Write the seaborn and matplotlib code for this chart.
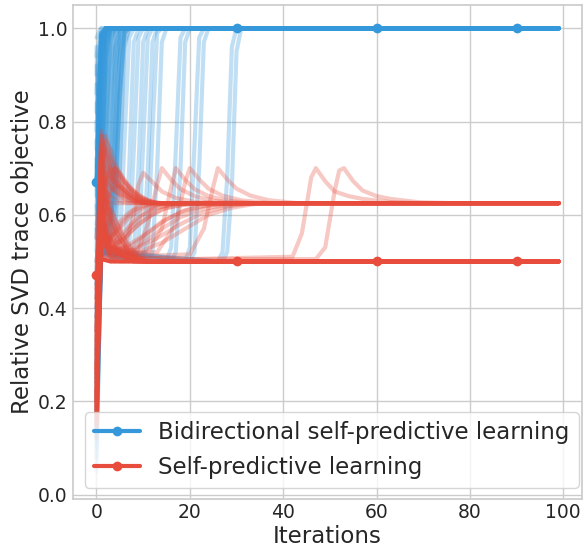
import numpy as np
import pandas as pd
import seaborn as sns
import matplotlib
matplotlib.use("Agg")
import matplotlib.pyplot as plt

BLUE = "#3498db"
RED = "#e74c3c"
LAST_ITER = 99

# ---------------------------------------------------------------------------
# Relative SVD trace objective per run.
# "fast"/"low"/"high" runs: values at iterations 0, 1, 2, ...; the last value
# holds to iteration 99.
# "slow"/"rise"/"bump" runs: (iteration, value) pairs.
# ---------------------------------------------------------------------------

# Highlighted runs (drawn opaque, with markers at 0, 30, 60, 90)
bidir_main_x = [0, 1, 2, 30, 60, 90, 99]
bidir_main_y = [0.67, 0.985, 1.0, 1.0, 1.0, 1.0, 1.0]
selfpred_main_x = [0, 1, 3, 30, 60, 90, 99]
selfpred_main_y = [0.47, 0.505, 0.5, 0.5, 0.5, 0.5, 0.5]

# Bidirectional runs that reach 1.0 within the first few iterations
bidir_fast = [
    [0.05, 0.55, 0.93, 1.0],
    [0.12, 0.62, 0.98, 1.0],
    [0.20, 0.85, 1.0],
    [0.28, 0.95, 1.0],
    [0.35, 0.78, 0.99, 1.0],
    [0.42, 0.90, 1.0],
    [0.48, 0.70, 0.96, 1.0],
    [0.52, 0.99, 1.0],
    [0.55, 0.80, 0.97, 1.0],
    [0.58, 0.66, 0.88, 0.99, 1.0],
    [0.60, 0.93, 1.0],
    [0.62, 0.58, 0.75, 0.97, 1.0],
    [0.64, 0.87, 1.0],
    [0.68, 0.60, 0.62, 0.85, 0.99, 1.0],
    [0.70, 0.96, 1.0],
    [0.72, 0.55, 0.58, 0.70, 0.95, 1.0],
    [0.74, 0.92, 1.0],
    [0.76, 0.64, 0.80, 0.98, 1.0],
    [0.78, 0.99, 1.0],
    [0.80, 0.57, 0.60, 0.66, 0.90, 1.0],
    [0.82, 0.94, 1.0],
    [0.84, 0.70, 0.93, 1.0],
    [0.86, 0.98, 1.0],
    [0.88, 0.60, 0.68, 0.92, 1.0],
    [0.90, 0.99, 1.0],
    [0.92, 0.75, 0.97, 1.0],
    [0.94, 1.0],
    [0.96, 0.62, 0.63, 0.72, 0.96, 1.0],
    [0.98, 1.0],
    [0.45, 0.56, 0.57, 0.60, 0.78, 0.99, 1.0],
    [0.30, 0.54, 0.56, 0.62, 0.90, 1.0],
    [0.15, 0.50, 0.55, 0.58, 0.68, 0.95, 1.0],
    [0.38, 0.60, 0.82, 1.0],
    [0.08, 0.52, 0.54, 0.57, 0.64, 0.86, 0.99, 1.0],
    [0.25, 0.53, 0.55, 0.60, 0.74, 0.97, 1.0],
    [0.50, 0.58, 0.64, 0.88, 1.0],
    [0.66, 0.56, 0.57, 0.59, 0.66, 0.88, 1.0],
    [0.18, 0.51, 0.53, 0.55, 0.58, 0.70, 0.96, 1.0],
    [0.40, 0.52, 0.53, 0.54, 0.62, 0.85, 0.99, 1.0],
    [0.57, 0.51, 0.52, 0.56, 0.72, 0.94, 1.0],
]

# Bidirectional runs that stay near 0.5 before switching to 1.0
bidir_slow = [
    [(0, 0.40), (1, 0.52), (3, 0.50), (4, 0.52), (5, 0.72), (6, 0.97), (7, 1.0)],
    [(0, 0.22), (1, 0.53), (4, 0.50), (5, 0.53), (6, 0.76), (7, 0.98), (8, 1.0)],
    [(0, 0.33), (1, 0.52), (5, 0.50), (6, 0.52), (7, 0.70), (8, 0.97), (9, 1.0)],
    [(0, 0.10), (1, 0.53), (6, 0.50), (7, 0.53), (8, 0.74), (9, 0.98), (10, 1.0)],
    [(0, 0.28), (1, 0.52), (7, 0.50), (8, 0.52), (9, 0.70), (10, 0.97), (11, 1.0)],
    [(0, 0.45), (1, 0.52), (8, 0.50), (9, 0.53), (10, 0.75), (11, 0.98), (12, 1.0)],
    [(0, 0.17), (1, 0.53), (9, 0.50), (10, 0.52), (11, 0.70), (12, 0.97), (13, 1.0)],
    [(0, 0.36), (1, 0.52), (10, 0.50), (11, 0.54), (12, 0.78), (13, 0.99), (14, 1.0)],
    [(0, 0.26), (1, 0.52), (11, 0.50), (12, 0.52), (13, 0.70), (14, 0.97), (15, 1.0)],
    [(0, 0.14), (1, 0.53), (15, 0.50), (16, 0.53), (17, 0.74), (18, 0.98), (19, 1.0)],
    [(0, 0.31), (1, 0.52), (16, 0.50), (17, 0.52), (18, 0.70), (19, 0.97), (20, 1.0)],
    [(0, 0.20), (1, 0.52), (19, 0.50), (20, 0.53), (21, 0.75), (22, 0.98), (23, 1.0)],
    [(0, 0.38), (1, 0.53), (20, 0.50), (21, 0.52), (22, 0.70), (23, 0.97), (24, 1.0)],
    [(0, 0.24), (1, 0.52), (26, 0.50), (27, 0.52), (28, 0.68), (29, 0.96), (30, 1.0)],
    [(0, 0.12), (1, 0.52), (27, 0.50), (28, 0.52), (29, 0.66), (30, 0.95), (31, 1.0)],
]

# Self-predictive runs settling on the 0.5 level
selfpred_low = [
    [0.15, 0.62, 0.54, 0.53, 0.52, 0.515, 0.51, 0.507, 0.505, 0.503, 0.5],
    [0.19, 0.55, 0.53, 0.525, 0.52, 0.515, 0.51, 0.506, 0.503, 0.5],
    [0.22, 0.70, 0.58, 0.54, 0.53, 0.52, 0.515, 0.51, 0.506, 0.503, 0.501, 0.5],
    [0.25, 0.52, 0.515, 0.51, 0.505, 0.5],
    [0.30, 0.66, 0.56, 0.535, 0.525, 0.518, 0.512, 0.507, 0.503, 0.5],
    [0.35, 0.58, 0.535, 0.525, 0.52, 0.515, 0.51, 0.505, 0.5],
    [0.40, 0.75, 0.64, 0.57, 0.54, 0.525, 0.515, 0.51, 0.505, 0.502, 0.5],
    [0.44, 0.51, 0.505, 0.5],
    [0.50, 0.60, 0.545, 0.53, 0.52, 0.513, 0.508, 0.504, 0.5],
    [0.55, 0.68, 0.60, 0.55, 0.53, 0.52, 0.513, 0.508, 0.504, 0.502, 0.5],
    [0.28, 0.54, 0.535, 0.53, 0.525, 0.52, 0.515, 0.51, 0.507, 0.504, 0.502, 0.5],
    [0.33, 0.72, 0.60, 0.55, 0.53, 0.52, 0.512, 0.506, 0.502, 0.5],
    [0.18, 0.64, 0.57, 0.545, 0.535, 0.527, 0.52, 0.514, 0.509, 0.505, 0.502, 0.5],
    [0.38, 0.57, 0.54, 0.53, 0.522, 0.516, 0.51, 0.505, 0.5],
    [0.24, 0.77, 0.66, 0.59, 0.55, 0.535, 0.525, 0.517, 0.51, 0.505, 0.502, 0.5],
    [0.46, 0.63, 0.56, 0.535, 0.525, 0.517, 0.51, 0.505, 0.5],
    [0.20, 0.66, 0.63, 0.60, 0.57, 0.55, 0.535, 0.522, 0.513, 0.507, 0.503, 0.5],
    [0.35, 0.74, 0.66, 0.62, 0.59, 0.565, 0.545, 0.53, 0.52, 0.512, 0.506, 0.502, 0.5],
    [0.27, 0.60, 0.61, 0.59, 0.57, 0.55, 0.535, 0.522, 0.513, 0.506, 0.502, 0.5],
    [0.42, 0.70, 0.64, 0.60, 0.57, 0.55, 0.535, 0.52, 0.51, 0.504, 0.5],
    [0.16, 0.58, 0.62, 0.61, 0.59, 0.57, 0.55, 0.535, 0.522, 0.512, 0.505, 0.5],
    [0.31, 0.68, 0.62, 0.58, 0.555, 0.54, 0.528, 0.518, 0.51, 0.504, 0.5],
    [0.21, 0.53, 0.54, 0.535, 0.53, 0.525, 0.52, 0.515, 0.51, 0.506, 0.503, 0.5],
]

# Self-predictive runs settling on the 0.625 level
selfpred_high = [
    [0.18, 0.76, 0.74, 0.70, 0.68, 0.665, 0.652, 0.643, 0.637, 0.632, 0.629, 0.627, 0.626, 0.625],
    [0.25, 0.70, 0.69, 0.67, 0.655, 0.645, 0.64, 0.635, 0.63, 0.627, 0.625],
    [0.12, 0.78, 0.72, 0.69, 0.67, 0.656, 0.646, 0.638, 0.632, 0.628, 0.626, 0.625],
    [0.35, 0.66, 0.65, 0.64, 0.635, 0.63, 0.627, 0.625],
    [0.42, 0.74, 0.77, 0.72, 0.69, 0.67, 0.656, 0.646, 0.638, 0.632, 0.628, 0.626, 0.625],
    [0.20, 0.60, 0.68, 0.70, 0.69, 0.675, 0.662, 0.652, 0.644, 0.638, 0.633, 0.629, 0.627, 0.625],
    [0.30, 0.64, 0.63, 0.627, 0.625],
    [0.22, 0.55, 0.60, 0.66, 0.70, 0.69, 0.675, 0.662, 0.652, 0.644, 0.637, 0.632, 0.628, 0.626, 0.625],
    [0.15, 0.72, 0.70, 0.68, 0.665, 0.652, 0.643, 0.636, 0.631, 0.628, 0.626, 0.625],
    [0.48, 0.77, 0.73, 0.70, 0.68, 0.664, 0.652, 0.643, 0.636, 0.631, 0.628, 0.626, 0.625],
    [0.27, 0.68, 0.67, 0.66, 0.65, 0.642, 0.636, 0.631, 0.628, 0.626, 0.625],
    [0.38, 0.62, 0.66, 0.69, 0.70, 0.685, 0.67, 0.658, 0.648, 0.64, 0.634, 0.63, 0.627, 0.625],
    [0.16, 0.70, 0.76, 0.74, 0.71, 0.69, 0.672, 0.66, 0.65, 0.642, 0.636, 0.631, 0.628, 0.626, 0.625],
    [0.32, 0.73, 0.68, 0.66, 0.648, 0.64, 0.634, 0.63, 0.627, 0.625],
    [0.44, 0.65, 0.68, 0.68, 0.67, 0.66, 0.65, 0.643, 0.637, 0.632, 0.628, 0.626, 0.625],
    [0.21, 0.75, 0.71, 0.685, 0.668, 0.655, 0.645, 0.638, 0.633, 0.629, 0.626, 0.625],
    [0.40, 0.58, 0.62, 0.65, 0.66, 0.66, 0.655, 0.648, 0.641, 0.635, 0.631, 0.628, 0.626, 0.625],
    [0.26, 0.71, 0.74, 0.72, 0.70, 0.684, 0.67, 0.658, 0.648, 0.64, 0.634, 0.63, 0.627, 0.625],
]

# Self-predictive runs drifting slowly from about 0.5 up to 0.625
selfpred_rise = [
    [(0, 0.20), (1, 0.56), (3, 0.53), (6, 0.55), (9, 0.58), (12, 0.60), (15, 0.615), (19, 0.622), (25, 0.625)],
    [(0, 0.29), (1, 0.60), (3, 0.52), (7, 0.53), (11, 0.56), (15, 0.59), (19, 0.61), (24, 0.62), (30, 0.625)],
    [(0, 0.17), (1, 0.58), (2, 0.54), (4, 0.56), (6, 0.59), (8, 0.61), (11, 0.62), (15, 0.625)],
    [(0, 0.34), (1, 0.55), (4, 0.52), (8, 0.525), (13, 0.55), (18, 0.58), (23, 0.605), (28, 0.618), (34, 0.625)],
    [(0, 0.23), (1, 0.62), (2, 0.55), (5, 0.54), (8, 0.57), (11, 0.595), (14, 0.612), (18, 0.621), (23, 0.625)],
    [(0, 0.41), (1, 0.57), (3, 0.525), (6, 0.53), (10, 0.555), (14, 0.585), (18, 0.605), (22, 0.618), (28, 0.625)],
    [(0, 0.19), (1, 0.53), (3, 0.515), (9, 0.52), (14, 0.54), (19, 0.57), (24, 0.60), (29, 0.615), (35, 0.625)],
    [(0, 0.31), (1, 0.59), (3, 0.55), (5, 0.57), (7, 0.595), (10, 0.613), (13, 0.621), (17, 0.625)],
    [(0, 0.26), (1, 0.52), (2, 0.51), (4, 0.53), (7, 0.57), (10, 0.60), (13, 0.615), (17, 0.623), (22, 0.625)],
    [(0, 0.37), (1, 0.55), (2, 0.53), (3, 0.55), (5, 0.585), (7, 0.605), (9, 0.617), (12, 0.624), (16, 0.625)],
    [(0, 0.14), (1, 0.51), (3, 0.505), (6, 0.515), (10, 0.54), (14, 0.57), (18, 0.595), (23, 0.613), (29, 0.622), (36, 0.625)],
    [(0, 0.45), (1, 0.56), (2, 0.54), (4, 0.545), (6, 0.565), (9, 0.595), (12, 0.613), (16, 0.622), (21, 0.625)],
]

# Self-predictive runs that leave the 0.5 level late with a bump before 0.625
selfpred_bump = [
    [(0, 0.27), (1, 0.58), (3, 0.52), (6, 0.53), (8, 0.60), (9, 0.665), (10, 0.69), (12, 0.67),
     (14, 0.65), (17, 0.636), (21, 0.628), (27, 0.625)],
    [(0, 0.21), (1, 0.61), (3, 0.52), (9, 0.525), (11, 0.58), (13, 0.665), (14, 0.70), (16, 0.675),
     (18, 0.655), (21, 0.64), (25, 0.63), (31, 0.625)],
    [(0, 0.36), (1, 0.54), (3, 0.515), (11, 0.52), (14, 0.57), (16, 0.66), (17, 0.70), (19, 0.675),
     (21, 0.655), (24, 0.64), (28, 0.63), (34, 0.625)],
    [(0, 0.24), (1, 0.57), (3, 0.515), (13, 0.52), (17, 0.58), (19, 0.67), (20, 0.70), (22, 0.676),
     (24, 0.656), (27, 0.641), (31, 0.631), (37, 0.625)],
    [(0, 0.18), (1, 0.55), (3, 0.51), (20, 0.515), (23, 0.57), (25, 0.66), (26, 0.70), (28, 0.676),
     (30, 0.656), (33, 0.641), (37, 0.631), (43, 0.625)],
    [(0, 0.33), (1, 0.56), (3, 0.51), (20, 0.505), (42, 0.51), (44, 0.56), (45, 0.62), (46, 0.68),
     (47, 0.70), (49, 0.672), (51, 0.65), (54, 0.64), (57, 0.634), (63, 0.627), (70, 0.625)],
    [(0, 0.26), (1, 0.59), (3, 0.51), (20, 0.505), (47, 0.505), (49, 0.53), (50, 0.59), (51, 0.65),
     (52, 0.695), (53, 0.70), (55, 0.672), (57, 0.652), (60, 0.64), (63, 0.634), (69, 0.627), (76, 0.625)],
]


def series_from_values(values):
    x = list(range(len(values))) + [LAST_ITER]
    y = list(values) + [values[-1]]
    return x, y


def series_from_pairs(pairs):
    x = [p[0] for p in pairs] + [LAST_ITER]
    y = [p[1] for p in pairs] + [pairs[-1][1]]
    return x, y


sns.set_theme(style="whitegrid")
plt.rcParams["font.family"] = ["DejaVu Sans"]

fig, ax = plt.subplots(figsize=(5.87, 5.48), dpi=100)
fig.subplots_adjust(left=0.125, right=0.991, top=0.991, bottom=0.089)

faint = dict(alpha=0.3, linewidth=3, legend=False, ax=ax)

for vals in bidir_fast:
    x, y = series_from_values(vals)
    sns.lineplot(x=x, y=y, color=BLUE, **faint)
for pairs in bidir_slow:
    x, y = series_from_pairs(pairs)
    sns.lineplot(x=x, y=y, color=BLUE, **faint)

sns.lineplot(x=bidir_main_x, y=bidir_main_y, color=BLUE, linewidth=3,
             marker="o", markersize=7, markeredgewidth=0, markevery=[0, 3, 4, 5],
             label="Bidirectional self-predictive learning", ax=ax)

for vals in selfpred_low + selfpred_high:
    x, y = series_from_values(vals)
    sns.lineplot(x=x, y=y, color=RED, **faint)
for pairs in selfpred_rise + selfpred_bump:
    x, y = series_from_pairs(pairs)
    sns.lineplot(x=x, y=y, color=RED, **faint)

sns.lineplot(x=selfpred_main_x, y=selfpred_main_y, color=RED, linewidth=3,
             marker="o", markersize=7, markeredgewidth=0, markevery=[0, 3, 4, 5],
             label="Self-predictive learning", ax=ax)

ax.set_xlim(-4.95, 103.95)
ax.set_ylim(-0.01, 1.05)
ax.set_xticks([0, 20, 40, 60, 80, 100])
ax.set_yticks([0.0, 0.2, 0.4, 0.6, 0.8, 1.0])
ax.tick_params(axis="x", length=0, labelsize=13.5, pad=3)
ax.tick_params(axis="y", length=0, labelsize=13.5, pad=4)
ax.set_xlabel("Iterations", fontsize=16.5, labelpad=2)
ax.set_ylabel("Relative SVD trace objective", fontsize=16.5, labelpad=3)

ax.legend(loc="lower left", fontsize=16.5, frameon=True)

fig.savefig("out.png", dpi=100)
